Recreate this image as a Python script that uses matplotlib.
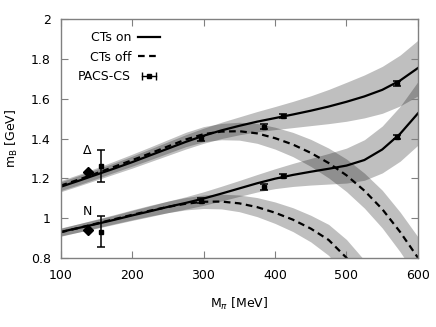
import numpy as np
import matplotlib
matplotlib.use("Agg")
import matplotlib.pyplot as plt
from matplotlib.lines import Line2D
from matplotlib.legend_handler import HandlerLine2D

# pion mass grid [MeV]
m_pi = [100, 125, 150, 175, 200, 225, 250, 275, 300, 325, 350,
        375, 400, 425, 450, 475, 500, 525, 550, 575, 600]

# Delta, counterterms on / off [GeV]
delta_on = [1.157, 1.187, 1.218, 1.249, 1.281, 1.315, 1.349, 1.383, 1.414, 1.441, 1.464,
            1.485, 1.503, 1.521, 1.540, 1.561, 1.585, 1.612, 1.645, 1.692, 1.755]
delta_on_err = [0.025, 0.026, 0.027, 0.028, 0.030, 0.032, 0.034, 0.036, 0.038, 0.041, 0.045,
                0.051, 0.058, 0.066, 0.075, 0.086, 0.098, 0.108, 0.118, 0.128, 0.140]
delta_off = [1.163, 1.193, 1.225, 1.258, 1.291, 1.325, 1.360, 1.395, 1.422, 1.435, 1.437,
             1.426, 1.402, 1.370, 1.328, 1.277, 1.215, 1.138, 1.045, 0.930, 0.800]
delta_off_err = [0.025, 0.026, 0.027, 0.028, 0.030, 0.032, 0.034, 0.036, 0.038, 0.041, 0.045,
                 0.050, 0.055, 0.061, 0.068, 0.075, 0.082, 0.088, 0.095, 0.100, 0.105]

# Nucleon, counterterms on / off [GeV]
nuc_on = [0.930, 0.950, 0.970, 0.991, 1.013, 1.034, 1.056, 1.076, 1.098, 1.123, 1.149,
          1.175, 1.198, 1.217, 1.233, 1.248, 1.264, 1.292, 1.345, 1.424, 1.527]
nuc_on_err = [0.020, 0.021, 0.022, 0.023, 0.025, 0.027, 0.029, 0.031, 0.034, 0.037, 0.040,
              0.044, 0.050, 0.058, 0.067, 0.077, 0.088, 0.102, 0.118, 0.138, 0.160]
nuc_off = [0.928, 0.950, 0.972, 0.994, 1.016, 1.037, 1.056, 1.072, 1.082, 1.083, 1.074,
           1.055, 1.027, 0.992, 0.947, 0.890, 0.800, 0.680, 0.550, 0.400, 0.250]
nuc_off_err = [0.020, 0.021, 0.022, 0.023, 0.025, 0.027, 0.029, 0.031, 0.034, 0.037, 0.042,
               0.048, 0.054, 0.060, 0.067, 0.078, 0.092, 0.108, 0.125, 0.145, 0.165]

# PACS-CS lattice data
pacs_mpi = [156, 296, 385, 411, 570]
pacs_nuc = [0.931, 1.088, 1.155, 1.213, 1.410]
pacs_nuc_err = [0.079, 0.012, 0.015, 0.011, 0.010]
pacs_delta = [1.262, 1.402, 1.460, 1.514, 1.678]
pacs_delta_err = [0.081, 0.013, 0.012, 0.010, 0.012]

# physical point
phys_mpi = [138, 138]
phys_mass = [0.939, 1.232]

x = np.array(m_pi)
FS = 9

fig = plt.figure(figsize=(4.36, 3.27), dpi=100)
ax = fig.add_axes([0.1388, 0.2116, 0.8199, 0.7294])

band_kw = dict(color="black", alpha=0.25, linewidth=0)
for c, e in [(delta_on, delta_on_err), (delta_off, delta_off_err),
             (nuc_on, nuc_on_err), (nuc_off, nuc_off_err)]:
    c = np.array(c); e = np.array(e)
    ax.fill_between(x, c - e, c + e, **band_kw)

ax.plot(x, delta_on, color="black", lw=1.6)
ax.plot(x, nuc_on, color="black", lw=1.6)
ax.plot(x, delta_off, color="black", lw=1.6, ls=(0, (3, 2)))
ax.plot(x, nuc_off, color="black", lw=1.6, ls=(0, (3, 2)))

for yv, ye in [(pacs_nuc, pacs_nuc_err), (pacs_delta, pacs_delta_err)]:
    ax.errorbar(pacs_mpi, yv, yerr=ye, fmt="s", color="black", ms=3.2,
                elinewidth=1.1, capsize=3, capthick=1.1)

ax.plot(phys_mpi, phys_mass, "D", color="black", ms=5.5, ls="none")

ax.text(137, 1.34, "Δ", ha="center", va="center", fontsize=FS)
ax.text(137, 1.035, "N", ha="center", va="center", fontsize=FS)

ax.set_xlim(100, 600)
ax.set_ylim(0.8, 2.0)
ax.set_xticks([100, 200, 300, 400, 500, 600])
ax.set_yticks([0.8, 1.0, 1.2, 1.4, 1.6, 1.8, 2.0])
ax.set_yticklabels(["0.8", "1", "1.2", "1.4", "1.6", "1.8", "2"])
ax.tick_params(direction="in", length=5, width=0.8, color="#808080",
               top=True, right=True, labelsize=FS)
ax.tick_params(axis="x", pad=8)
ax.tick_params(axis="y", pad=7)
for s in ax.spines.values():
    s.set_color("#808080")
    s.set_linewidth(1.0)

ax.set_xlabel(r"M$_\pi$ [MeV]", fontsize=FS, labelpad=10)
ax.set_ylabel(r"m$_\mathrm{B}$ [GeV]", fontsize=FS, labelpad=8)

h_on = Line2D([], [], color="black", lw=1.6)
h_off = Line2D([], [], color="black", lw=1.6, ls=(0, (3, 2)))
h_bar = Line2D([], [], color="black", lw=1.0, marker="|", ms=6, mew=1.0)
h_sq = Line2D([], [], color="black", ls="none", marker="s", ms=3.2)
leg = ax.legend([h_on, h_off, (h_bar, h_sq)], ["CTs on", "CTs off", "PACS-CS"],
                handler_map={h_bar: HandlerLine2D(numpoints=2)},
                loc="upper left", bbox_to_anchor=(0.035, 0.97), frameon=False,
                markerfirst=False, fontsize=FS, handlelength=1.75,
                handletextpad=0.55, labelspacing=0.5, borderaxespad=0)

fig.savefig("out.png", dpi=100)
